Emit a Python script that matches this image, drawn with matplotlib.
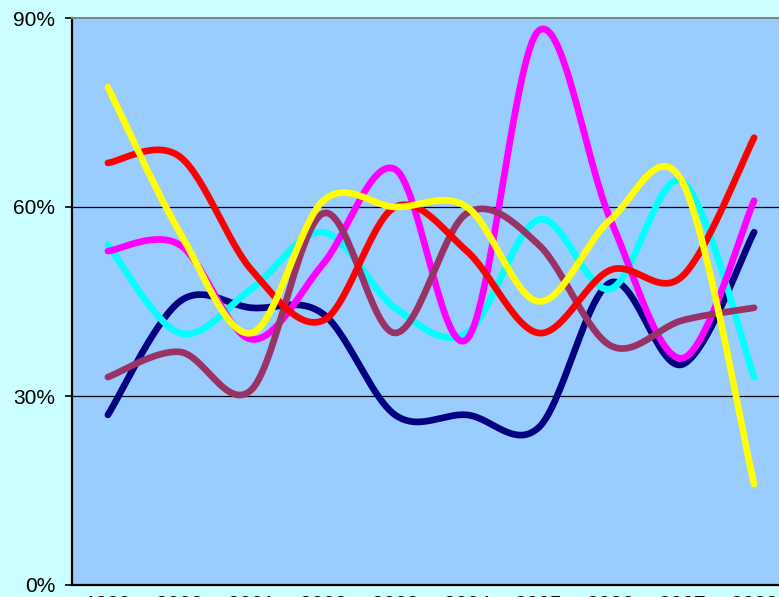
"""Smoothed multi-series line chart, 1999-2008, percent scale."""

import matplotlib
matplotlib.use("Agg")
import matplotlib.pyplot as plt
import numpy as np
from matplotlib.ticker import FuncFormatter

plt.rcParams["font.family"] = ["Liberation Sans", "DejaVu Sans"]
plt.rcParams["font.size"] = 15

years = ["1999", "2000", "2001", "2002", "2003", "2004",
         "2005", "2006", "2007", "2008"]

# values in percent
navy = [27, 45, 44, 43, 27, 27, 25, 48, 35, 56]
cyan = [54, 40, 47, 56, 44, 40, 58, 47, 64, 33]
magenta = [53, 54, 39, 51, 66, 39, 88, 58, 36, 61]
plum = [33, 37, 31, 59, 40, 59, 54, 38, 42, 44]
red = [67, 68, 50, 42, 60, 53, 40, 50, 49, 71]
yellow = [79, 56, 40, 61, 60, 60, 45, 58, 64, 16]

# draw order: first is at the bottom
series = [
    (navy, "#000080"),
    (cyan, "#00FFFF"),
    (magenta, "#FF00FF"),
    (plum, "#993366"),
    (red, "#FF0000"),
    (yellow, "#FFFF00"),
]


def smooth(xs, ys, steps=30):
    # Catmull-Rom style bezier, like spreadsheet "smoothed line"
    p = np.column_stack([xs, ys]).astype(float)
    n = len(p)
    out = []
    for i in range(n - 1):
        p0 = p[max(i - 1, 0)]
        p1 = p[i]
        p2 = p[i + 1]
        p3 = p[min(i + 2, n - 1)]
        c1 = p1 + (p2 - p0) / 6.0
        c2 = p2 - (p3 - p1) / 6.0
        t = np.linspace(0, 1, steps, endpoint=(i == n - 2))[:, None]
        seg = ((1 - t) ** 3 * p1 + 3 * (1 - t) ** 2 * t * c1
               + 3 * (1 - t) * t ** 2 * c2 + t ** 3 * p2)
        out.append(seg)
    pts = np.vstack(out)
    return pts[:, 0], pts[:, 1]


fig = plt.figure(figsize=(7.79, 5.97), dpi=100, facecolor="#CCFFFF")
ax = fig.add_axes([72 / 779, 12 / 597, 718 / 779, 567 / 597])
ax.set_facecolor("#99CCFF")

xs = np.arange(len(years))
for vals, color in series:
    sx, sy = smooth(xs, vals)
    ax.plot(sx, sy, color=color, linewidth=4.8, solid_capstyle="round",
            solid_joinstyle="round", zorder=3)

ax.set_xlim(-0.5, len(years) - 0.5)
ax.set_ylim(0, 90)
ax.set_yticks([0, 30, 60, 90])
ax.yaxis.set_major_formatter(FuncFormatter(lambda v, _: f"{v:.0f}%"))
ax.set_xticks(xs)
ax.set_xticklabels(years)

for v in (30, 60):
    ax.axhline(v, color="black", linewidth=0.9, zorder=2)

ax.tick_params(axis="y", direction="out", length=5, width=1.2, pad=7,
               colors="black", labelsize=15)
ax.tick_params(axis="x", length=0, pad=7, labelsize=15)

ax.spines["left"].set_linewidth(1.6)
ax.spines["bottom"].set_linewidth(1.6)
ax.spines["top"].set_color("#808080")
ax.spines["top"].set_linewidth(1.4)
ax.spines["right"].set_color("#808080")

fig.savefig("out.png", dpi=100, facecolor=fig.get_facecolor())
